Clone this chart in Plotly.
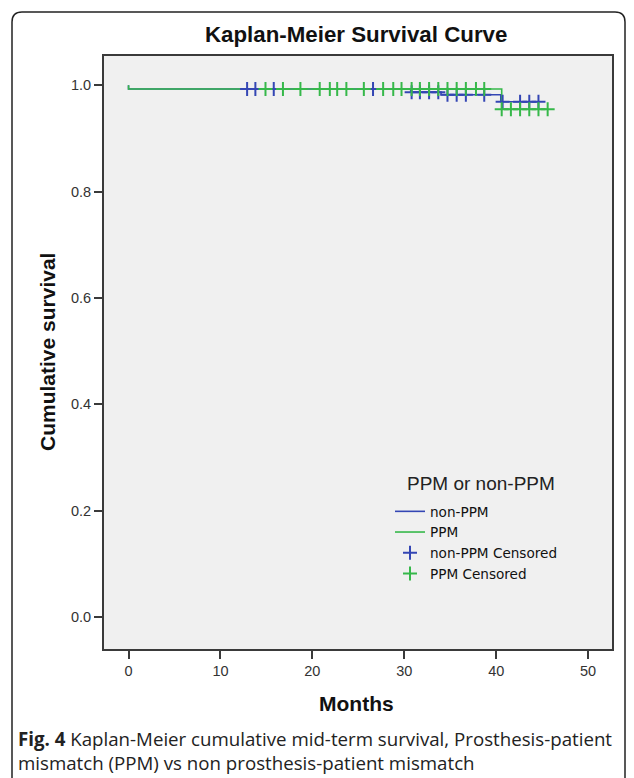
import plotly.graph_objects as go

# ---- data ----
nonppm_time = [0, 0, 30.7, 34.0, 40.5, 44.6]
nonppm_surv = [1.0, 0.993, 0.987, 0.982, 0.969, 0.969]
ppm_time = [0, 0, 40.6, 45.6]
ppm_surv = [1.0, 0.993, 0.955, 0.955]

nonppm_cens_time = [12.9, 13.8, 15.8, 26.6, 30.8, 31.7, 32.7, 33.7, 34.7, 35.7, 36.7, 38.7, 40.7, 42.6, 43.6, 44.6]
ppm_cens_time = [14.9, 16.8, 18.7, 20.8, 21.9, 22.7, 23.7, 25.6, 27.7, 28.8, 29.7, 30.8, 31.7,
                 32.7, 33.7, 34.7, 35.7, 36.7, 37.8, 38.7, 40.6, 41.6, 42.6, 43.6, 44.6, 45.6]

x_ticks = [0, 10, 20, 30, 40, 50]
y_ticks = [0.0, 0.2, 0.4, 0.6, 0.8, 1.0]

BLUE = "#3446b4"
GREEN = "#36b84a"


def step_value(times, survs, t):
    v = survs[0]
    for tt, s in zip(times, survs):
        if tt <= t:
            v = s
    return v


nonppm_cens_surv = [step_value(nonppm_time, nonppm_surv, t) for t in nonppm_cens_time]
ppm_cens_surv = [step_value(ppm_time, ppm_surv, t) for t in ppm_cens_time]

fig = go.Figure()
fig.add_trace(go.Scatter(x=nonppm_time, y=nonppm_surv, mode="lines", name="non-PPM",
                         line=dict(color=BLUE, width=1.6, shape="hv")))
fig.add_trace(go.Scatter(x=ppm_time, y=ppm_surv, mode="lines", name="PPM",
                         line=dict(color=GREEN, width=1.6, shape="hv")))
fig.add_trace(go.Scatter(x=nonppm_cens_time, y=nonppm_cens_surv, mode="markers", name="non-PPM Censored",
                         marker=dict(symbol="cross-thin", size=10, color=BLUE,
                                     line=dict(color=BLUE, width=2))))
fig.add_trace(go.Scatter(x=ppm_cens_time, y=ppm_cens_surv, mode="markers", name="PPM Censored",
                         marker=dict(symbol="cross-thin", size=10, color=GREEN,
                                     line=dict(color=GREEN, width=2))))

L, R, T, B = 104, 22, 56, 129
W, H = 634, 778
pw, ph = W - L - R, H - T - B


def px(xp):
    return (xp - L) / pw


def py(yp):
    return (H - B - yp) / ph


axis_common = dict(showgrid=False, zeroline=False, showline=True, mirror=True,
                   linecolor="#3a3a3a", linewidth=1.8, ticks="outside", ticklen=8,
                   tickwidth=1.8, tickcolor="#3a3a3a",
                   tickfont=dict(family="Liberation Sans", size=14.5, color="#333"))

fig.update_layout(
    width=W, height=H,
    margin=dict(l=L, r=R, t=T, b=B),
    paper_bgcolor="white",
    plot_bgcolor="#f0f0f0",
    showlegend=True,
    legend=dict(x=px(390), y=py(496), xanchor="left", yanchor="top",
                bgcolor="rgba(0,0,0,0)",
                font=dict(family="DejaVu Sans", size=13.6, color="#111"),
                itemwidth=30, tracegroupgap=0),
    xaxis=dict(range=[-2.67, 52.6], tickvals=x_ticks, ticktext=[str(v) for v in x_ticks], **axis_common),
    yaxis=dict(range=[-0.060, 1.055], tickvals=y_ticks, ticktext=[f"{v:.1f}" for v in y_ticks], **axis_common),
)

fig.add_annotation(text="PPM or non-PPM", xref="paper", yref="paper",
                   x=px(481), y=py(483), xanchor="center", yanchor="middle", showarrow=False,
                   font=dict(family="Liberation Sans", size=19, color="#222"))
fig.add_annotation(text="<b>Kaplan-Meier Survival Curve</b>", xref="paper", yref="paper",
                   x=px(356), y=py(35), xanchor="center", yanchor="middle", showarrow=False,
                   font=dict(family="Liberation Sans", size=22.3, color="#111"))
fig.add_annotation(text="<b>Cumulative survival</b>", xref="paper", yref="paper",
                   x=px(47), y=py(352), xanchor="center", yanchor="middle", textangle=-90,
                   showarrow=False, font=dict(family="Liberation Sans", size=21, color="#111"))
fig.add_annotation(text="<b>Months</b>", xref="paper", yref="paper",
                   x=px(356), y=py(703), xanchor="center", yanchor="middle", showarrow=False,
                   font=dict(family="Liberation Sans", size=21, color="#111"))
fig.add_annotation(text="<b>Fig. 4</b> Kaplan-Meier cumulative mid-term survival, Prosthesis-patient<br>"
                        "mismatch (PPM) vs non prosthesis-patient mismatch",
                   xref="paper", yref="paper", x=px(16), y=py(724), xanchor="left", yanchor="top",
                   align="left", showarrow=False,
                   font=dict(family="Open Sans", size=18.7, color="#222"))

# outer rounded frame
r = 10
path = (f"M {px(12)},{py(780)} L {px(12)},{py(12 + r)} Q {px(12)},{py(12)} {px(12 + r)},{py(12)} "
        f"L {px(625 - r)},{py(12)} Q {px(625)},{py(12)} {px(625)},{py(12 + r)} L {px(625)},{py(780)}")
fig.add_shape(type="path", path=path, xref="paper", yref="paper",
              line=dict(color="#222", width=1.5), layer="above")

fig.write_html("out.html", config={"displayModeBar": False},
               post_script="document.body.style.margin='0px';document.body.style.overflow='hidden';")
